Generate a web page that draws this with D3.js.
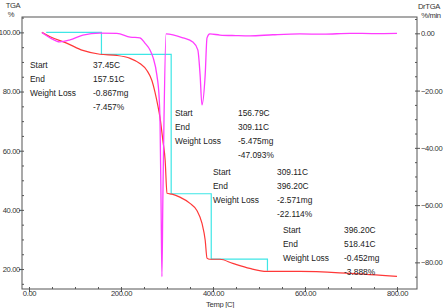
<!DOCTYPE html>
<html>
<head>
<meta charset="utf-8">
<script src="https://cdn.jsdelivr.net/npm/d3@7"></script>
<style>
  html, body { margin: 0; padding: 0; background: #fff; }
  svg { display: block; }
  .tick text { font-family: "Liberation Sans", Arial, sans-serif; font-size: 7.6px; letter-spacing: -0.35px; fill: #333; }
  .axis path, .axis line { stroke: #555; }
  .note { font-family: "Liberation Sans", Arial, sans-serif; font-size: 8.4px; fill: #222; }
  .unit { font-family: "Liberation Sans", Arial, sans-serif; font-size: 7.6px; letter-spacing: -0.3px; fill: #333; }
</style>
</head>
<body>
<div id="chart"></div>
<script>
// ==== DATA ====
// TGA curve: temperature [C], weight [%]
const TGA_T = [28, 46, 83, 117, 154, 191, 220, 241, 256, 267, 274, 280, 285, 291, 296, 300, 311, 328, 350, 365, 376, 383, 387, 393, 415, 443, 480, 517, 589, 698, 800];
const TGA_W = [100, 98.5, 96.3, 93.9, 92.6, 92.2, 91.2, 89.5, 87.2, 83.8, 79.7, 75.3, 71, 63.5, 56.8, 45.6, 45.3, 44.3, 42.2, 39.8, 35.5, 29.8, 23.7, 23.3, 23.3, 21.9, 20.2, 19.2, 19.2, 18.5, 17.5];

// DrTGA curve: temperature [C], rate [%/min]
const DR_T = [28, 46, 67, 89, 117, 154, 191, 220, 241, 252, 263, 270, 278, 283, 285, 287, 289, 291, 293.5, 298, 335, 356, 367, 372, 376, 383, 387, 393, 415, 450, 480, 530, 589, 640, 698, 750, 800];
const DR_V = [0.3, -1.6, -3.0, -2.3, -0.6, 0.1, 0, -1.3, -1.6, -3.4, -5.8, -8.6, -14.6, -22.6, -32, -58, -85, -58, -30, -0.2, -1.6, -3.0, -5.8, -14.6, -25, -14.6, -1.6, -0.2, -0.6, -0.8, -0.9, -0.5, -0.2, -0.3, 0, -0.1, 0];

// Weight-loss steps
const STEP_START = [37.45, 156.79, 309.11, 396.20];
const STEP_END = [157.51, 309.11, 396.20, 518.41];
const STEP_MG = ["-0.867mg", "-5.475mg", "-2.571mg", "-0.452mg"];
const STEP_PCT = [7.457, 47.093, 22.114, 3.888];

// Ticks
const X_TICKS = [0, 200, 400, 600, 800];
const YL_TICKS = [20, 40, 60, 80, 100];
const YR_TICKS = [-80, -60, -40, -20, 0];

// ==== SIZE ====
const width = 445, height = 308;
const plot = { left: 22, right: 417, top: 17, bottom: 289 };

// ==== SCALES ====
const x = d3.scaleLinear().domain([-15.2, 843.5]).range([plot.left, plot.right]);
const yL = d3.scaleLinear().domain([13.25, 105.2]).range([plot.bottom, plot.top]);
const yR = d3.scaleLinear().domain([-89.3, 5.7]).range([plot.bottom, plot.top]);

const svg = d3.select("#chart").append("svg")
  .attr("width", width).attr("height", height);

// frame
svg.append("rect")
  .attr("x", plot.left).attr("y", plot.top)
  .attr("width", plot.right - plot.left).attr("height", plot.bottom - plot.top)
  .attr("fill", "none").attr("stroke", "#555").attr("stroke-width", 1);

// ==== AXES ====
const fmt = d3.format(".2f");

// minor ticks (inward)
svg.append("g").attr("class", "axis")
  .attr("transform", `translate(${plot.left},0)`)
  .call(d3.axisRight(yL).tickValues(d3.range(15, 105.1, 5)).tickSize(2).tickFormat(""))
  .call(g => g.select(".domain").remove());
svg.append("g").attr("class", "axis")
  .attr("transform", `translate(${plot.right},0)`)
  .call(d3.axisLeft(yR).tickValues(d3.range(-85, 5.1, 5)).tickSize(2).tickFormat(""))
  .call(g => g.select(".domain").remove());
svg.append("g").attr("class", "axis")
  .attr("transform", `translate(0,${plot.bottom})`)
  .call(d3.axisTop(x).tickValues(d3.range(0, 801, 50)).tickSize(2).tickFormat(""))
  .call(g => g.select(".domain").remove());

// major ticks with labels
svg.append("g").attr("class", "axis")
  .attr("transform", `translate(${plot.left},0)`)
  .call(d3.axisLeft(yL).tickValues(YL_TICKS).tickSize(3).tickPadding(-1).tickFormat(fmt))
  .call(g => g.select(".domain").remove());
svg.append("g").attr("class", "axis")
  .attr("transform", `translate(${plot.right},0)`)
  .call(d3.axisRight(yR).tickValues(YR_TICKS).tickSize(3).tickPadding(1).tickFormat(fmt))
  .call(g => g.select(".domain").remove());
svg.append("g").attr("class", "axis")
  .attr("transform", `translate(0,${plot.bottom})`)
  .call(d3.axisBottom(x).tickValues(X_TICKS).tickSize(3).tickPadding(-1).tickFormat(fmt))
  .call(g => g.select(".domain").remove());

// axis titles
svg.append("text").attr("class", "unit").attr("x", 13).attr("y", 8).attr("text-anchor", "middle").text("TGA");
svg.append("text").attr("class", "unit").attr("x", 11).attr("y", 16.5).attr("text-anchor", "middle").text("%");
svg.append("text").attr("class", "unit").attr("x", 429).attr("y", 8.5).attr("text-anchor", "middle").text("DrTGA");
svg.append("text").attr("class", "unit").attr("x", 431).attr("y", 17.5).attr("text-anchor", "middle").text("%/min");
svg.append("text").attr("class", "unit").attr("x", 220).attr("y", 306.5).attr("text-anchor", "middle").text("Temp  [C]");

// ==== STEP LINES (cyan) ====
let level = 100;
const stair = [[STEP_START[0], level]];
STEP_END.forEach((e, i) => {
  stair.push([e, level]);
  level -= STEP_PCT[i];
  stair.push([e, level]);
});
const stairLine = d3.line().x(d => x(d[0])).y(d => yL(d[1]));
svg.append("path")
  .attr("d", stairLine(stair))
  .attr("fill", "none").attr("stroke", "#3ee6e6").attr("stroke-width", 1.2);

// ==== CURVES ====
const tga = TGA_T.map((t, i) => ({ t, v: TGA_W[i] }));
const dr = DR_T.map((t, i) => ({ t, v: DR_V[i] }));

svg.append("path")
  .attr("d", d3.line().x(d => x(d.t)).y(d => yL(d.v)).curve(d3.curveMonotoneX)(tga))
  .attr("fill", "none").attr("stroke", "#ff3838").attr("stroke-width", 1.2);

svg.append("path")
  .attr("d", d3.line().x(d => x(d.t)).y(d => yR(d.v)).curve(d3.curveMonotoneX)(dr))
  .attr("fill", "none").attr("stroke", "#ff3cff").attr("stroke-width", 1.3);

// ==== ANNOTATIONS ====
const NOTE_POS = [
  { lx: 30, vx: 93, y: 65 },
  { lx: 175, vx: 238, y: 113 },
  { lx: 213, vx: 277, y: 172 },
  { lx: 283, vx: 344, y: 230 }
];
const LABELS = ["Start", "End", "Weight Loss"];
NOTE_POS.forEach((p, i) => {
  const vals = [fmt(STEP_START[i]) + "C", fmt(STEP_END[i]) + "C", STEP_MG[i], "-" + d3.format(".3f")(STEP_PCT[i]) + "%"];
  LABELS.forEach((l, j) => {
    svg.append("text").attr("class", "note")
      .attr("x", p.lx).attr("y", p.y + j * 14 + 3).text(l);
  });
  vals.forEach((v, j) => {
    svg.append("text").attr("class", "note")
      .attr("x", p.vx).attr("y", p.y + j * 14 + 3).text(v);
  });
});
</script>
</body>
</html>
